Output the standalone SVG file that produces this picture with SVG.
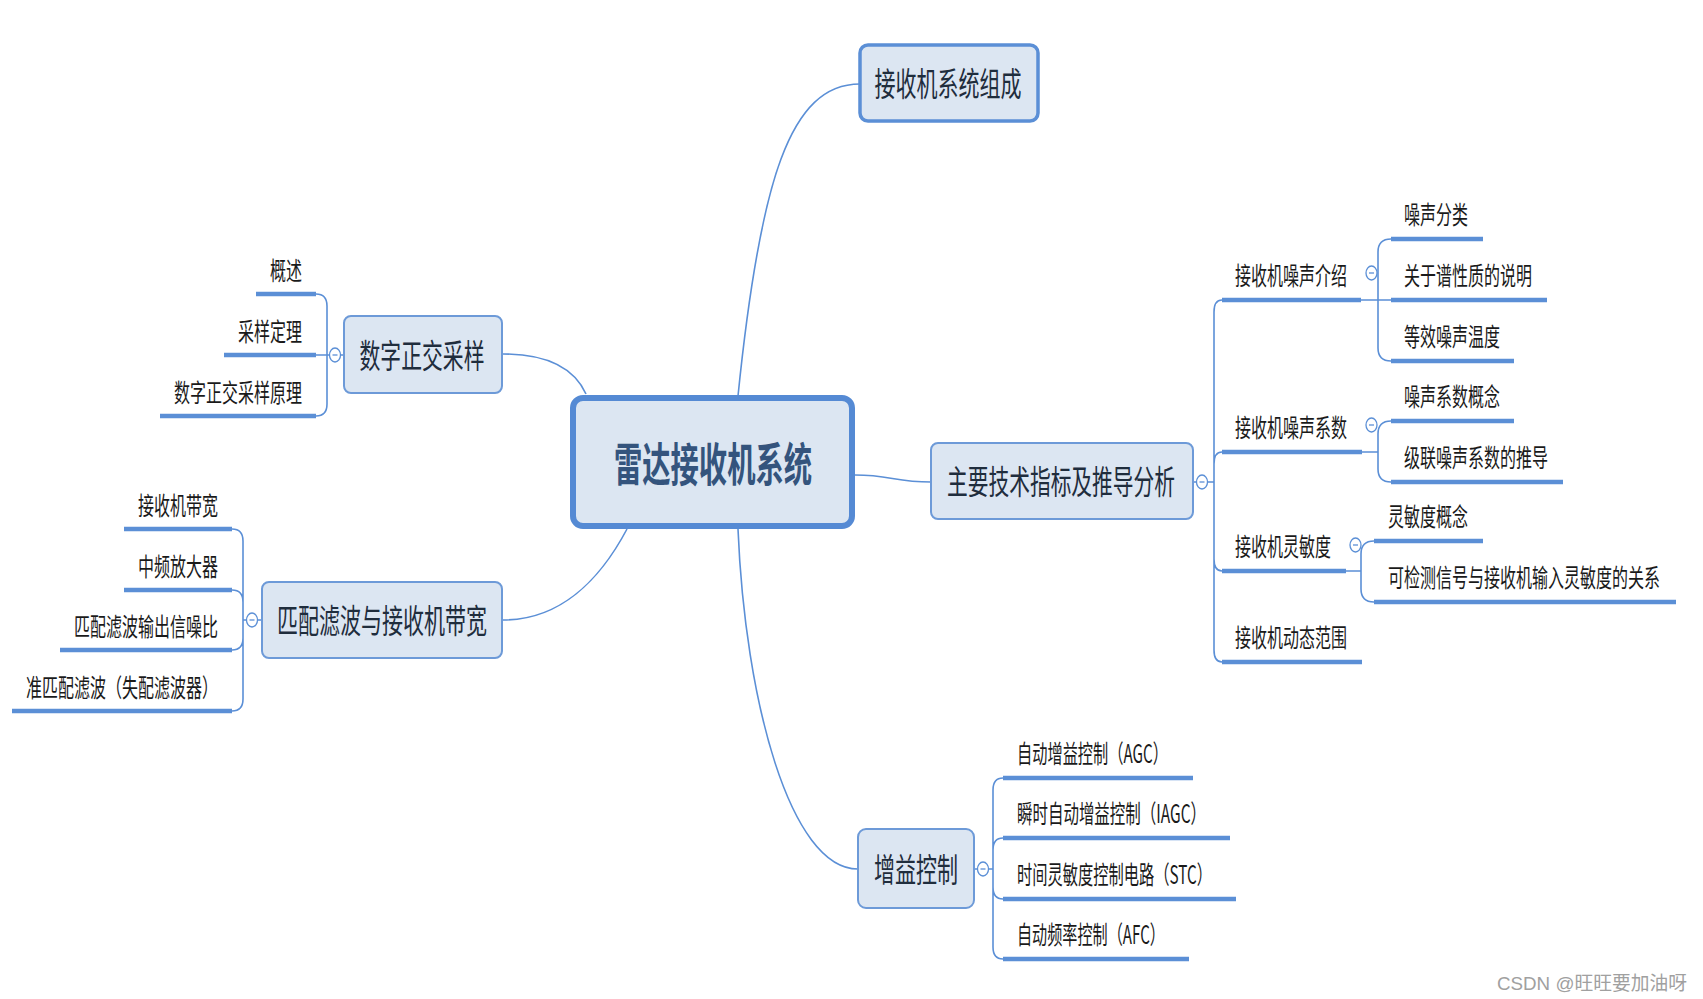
<svg xmlns="http://www.w3.org/2000/svg" width="1703" height="999" viewBox="0 0 1703 999">
<style>
.line{fill:none;stroke:#5b8fd6;stroke-width:1.6}
.bar{stroke:#5b8fd6;stroke-width:4.5}
.box{fill:#dce6f2;stroke:#6d9ad8;stroke-width:2}
.t{font-family:"Noto Sans CJK SC","Noto Sans CJK JP",sans-serif}
.leaf{font-size:25px;fill:#1a1a1a}
.main{font-size:33px;fill:#1f2d3d;text-anchor:middle}
.root{font-size:46px;font-weight:bold;fill:#34547d;text-anchor:middle}
.tog ellipse{fill:#fff;stroke:#5b8fd6;stroke-width:1.3}
.tog line{stroke:#5b8fd6;stroke-width:1.3}
</style>
<rect width="1703" height="999" fill="#fff"/>
<defs>
<g id="tg" class="tog"><ellipse cx="0" cy="0" rx="5.5" ry="7"/><line x1="-2.5" y1="0" x2="2.5" y2="0"/></g>
</defs>

<g id="connectors">
<!-- root to branches -->
<path class="line" d="M738 396 C760 180 790 84 860 84"/>
<path class="line" d="M586 394 C575 370 550 354 503 354"/>
<path class="line" d="M627 529 C600 580 560 620 503 620"/>
<path class="line" d="M855 475 C890 475 895 482 931 482"/>
<path class="line" d="M738 529 C745 700 790 869 858 869"/>
<!-- left upper -->
<path class="line" d="M316 294 Q327 294 327 306 L327 404 Q327 416 316 416 M316 355 L329.5 355 M340.5 355 L344 355"/>
<!-- left lower -->
<path class="line" d="M232 529 Q243 529 243 541 L243 699 Q243 711 232 711 M232 590 Q243 590 243 602 L243 638 Q243 650 232 650 M243 620 L246.5 620 M257.5 620 L262 620"/>
<!-- right main -->
<path class="line" d="M1194 482 L1196.5 482 M1207.5 482 L1214 482 M1222 300 Q1214 300 1214 312 L1214 650 Q1214 662 1222 662 M1222 452 Q1214 452 1214 464 L1214 559 Q1214 571 1222 571"/>
<!-- sub1 -->
<path class="line" d="M1391 239 Q1378 239 1378 252 L1378 348 Q1378 361 1391 361 M1361 300 L1391 300"/>
<!-- sub2 -->
<path class="line" d="M1391 421 Q1378 421 1378 434 L1378 469 Q1378 482 1391 482 M1362 452 L1378 452"/>
<!-- sub3 -->
<path class="line" d="M1374 541 Q1361 541 1361 554 L1361 589 Q1361 602 1374 602 M1346 571 L1361 571"/>
<!-- gain -->
<path class="line" d="M974 869 L977.5 869 M988.5 869 L993 869 M1003 778 Q993 778 993 790 L993 947 Q993 959 1003 959 M1003 838 Q993 838 993 850 L993 887 Q993 899 1003 899"/>
<use href="#tg" x="335" y="355"/>
<use href="#tg" x="252" y="620"/>
<use href="#tg" x="1202" y="482"/>
<use href="#tg" x="1371.5" y="273"/>
<use href="#tg" x="1371.5" y="425"/>
<use href="#tg" x="1355.5" y="545"/>
<use href="#tg" x="983" y="869"/>
</g>

<g id="root">
<rect x="573" y="398" width="279" height="128" rx="10" fill="#dce6f2" stroke="#558ad4" stroke-width="6"/>
<text class="t root" x="713" y="481" textLength="198" lengthAdjust="spacingAndGlyphs">雷达接收机系统</text>
</g>

<g id="n-composition">
<rect x="860" y="45" width="178" height="76" rx="8" fill="#dce6f2" stroke="#5b8fd6" stroke-width="3.5"/>
<text class="t main" x="948" y="96" textLength="147" lengthAdjust="spacingAndGlyphs">接收机系统组成</text>
</g>

<g id="n-tech">
<rect class="box" x="931" y="443" width="262" height="76" rx="7"/>
<text class="t main" x="1061" y="494" textLength="228" lengthAdjust="spacingAndGlyphs">主要技术指标及推导分析</text>
</g>

<g id="n-sampling">
<rect class="box" x="344" y="316" width="158" height="77" rx="7"/>
<text class="t main" x="422" y="368" textLength="125" lengthAdjust="spacingAndGlyphs">数字正交采样</text>
</g>

<g id="n-matched">
<rect class="box" x="262" y="582" width="240" height="76" rx="7"/>
<text class="t main" x="382" y="633" textLength="210" lengthAdjust="spacingAndGlyphs">匹配滤波与接收机带宽</text>
</g>

<g id="n-gain">
<rect class="box" x="858" y="829" width="116" height="79" rx="8"/>
<text class="t main" x="916" y="882" textLength="84" lengthAdjust="spacingAndGlyphs">增益控制</text>
</g>

<!-- left upper leaves -->
<g id="l-overview"><line class="bar" x1="256" y1="294" x2="316" y2="294"/><text class="t leaf" x="302" y="280" text-anchor="end" textLength="32" lengthAdjust="spacingAndGlyphs">概述</text></g>
<g id="l-theorem"><line class="bar" x1="224" y1="355" x2="316" y2="355"/><text class="t leaf" x="302" y="341" text-anchor="end" textLength="64" lengthAdjust="spacingAndGlyphs">采样定理</text></g>
<g id="l-principle"><line class="bar" x1="160" y1="416" x2="316" y2="416"/><text class="t leaf" x="302" y="402" text-anchor="end" textLength="128" lengthAdjust="spacingAndGlyphs">数字正交采样原理</text></g>

<!-- left lower leaves -->
<g id="l-bw"><line class="bar" x1="124" y1="529" x2="232" y2="529"/><text class="t leaf" x="218" y="515" text-anchor="end" textLength="80" lengthAdjust="spacingAndGlyphs">接收机带宽</text></g>
<g id="l-if"><line class="bar" x1="124" y1="590" x2="232" y2="590"/><text class="t leaf" x="218" y="576" text-anchor="end" textLength="80" lengthAdjust="spacingAndGlyphs">中频放大器</text></g>
<g id="l-snr"><line class="bar" x1="60" y1="650" x2="232" y2="650"/><text class="t leaf" x="218" y="636" text-anchor="end" textLength="144" lengthAdjust="spacingAndGlyphs">匹配滤波输出信噪比</text></g>
<g id="l-quasi"><line class="bar" x1="12" y1="711" x2="232" y2="711"/><text class="t leaf" x="218" y="697" text-anchor="end" textLength="192" lengthAdjust="spacingAndGlyphs">准匹配滤波（失配滤波器）</text></g>

<!-- right subs -->
<g id="s-noise"><line class="bar" x1="1222" y1="300" x2="1361" y2="300"/><text class="t leaf" x="1235" y="285" textLength="112" lengthAdjust="spacingAndGlyphs">接收机噪声介绍</text></g>
<g id="s-nf"><line class="bar" x1="1222" y1="452" x2="1362" y2="452"/><text class="t leaf" x="1235" y="437" textLength="112" lengthAdjust="spacingAndGlyphs">接收机噪声系数</text></g>
<g id="s-sens"><line class="bar" x1="1222" y1="571" x2="1346" y2="571"/><text class="t leaf" x="1235" y="556" textLength="96" lengthAdjust="spacingAndGlyphs">接收机灵敏度</text></g>
<g id="s-dr"><line class="bar" x1="1222" y1="662" x2="1362" y2="662"/><text class="t leaf" x="1235" y="647" textLength="112" lengthAdjust="spacingAndGlyphs">接收机动态范围</text></g>

<g id="r-class"><line class="bar" x1="1391" y1="239" x2="1483" y2="239"/><text class="t leaf" x="1404" y="224" textLength="64" lengthAdjust="spacingAndGlyphs">噪声分类</text></g>
<g id="r-spec"><line class="bar" x1="1391" y1="300" x2="1547" y2="300"/><text class="t leaf" x="1404" y="285" textLength="128" lengthAdjust="spacingAndGlyphs">关于谱性质的说明</text></g>
<g id="r-temp"><line class="bar" x1="1391" y1="361" x2="1514" y2="361"/><text class="t leaf" x="1404" y="346" textLength="96" lengthAdjust="spacingAndGlyphs">等效噪声温度</text></g>
<g id="r-nfc"><line class="bar" x1="1391" y1="421" x2="1514" y2="421"/><text class="t leaf" x="1404" y="406" textLength="96" lengthAdjust="spacingAndGlyphs">噪声系数概念</text></g>
<g id="r-casc"><line class="bar" x1="1391" y1="482" x2="1563" y2="482"/><text class="t leaf" x="1404" y="467" textLength="144" lengthAdjust="spacingAndGlyphs">级联噪声系数的推导</text></g>
<g id="r-sensc"><line class="bar" x1="1374" y1="541" x2="1483" y2="541"/><text class="t leaf" x="1388" y="526" textLength="80" lengthAdjust="spacingAndGlyphs">灵敏度概念</text></g>
<g id="r-rel"><line class="bar" x1="1374" y1="602" x2="1676" y2="602"/><text class="t leaf" x="1388" y="587" textLength="272" lengthAdjust="spacingAndGlyphs">可检测信号与接收机输入灵敏度的关系</text></g>

<!-- gain leaves -->
<g id="g-agc"><line class="bar" x1="1003" y1="778" x2="1193" y2="778"/><text class="t leaf" x="1017" y="763" textLength="151" lengthAdjust="spacingAndGlyphs">自动增益控制（AGC）</text></g>
<g id="g-iagc"><line class="bar" x1="1003" y1="838" x2="1230" y2="838"/><text class="t leaf" x="1017" y="823" textLength="189" lengthAdjust="spacingAndGlyphs">瞬时自动增益控制（IAGC）</text></g>
<g id="g-stc"><line class="bar" x1="1003" y1="899" x2="1236" y2="899"/><text class="t leaf" x="1017" y="884" textLength="195" lengthAdjust="spacingAndGlyphs">时间灵敏度控制电路（STC）</text></g>
<g id="g-afc"><line class="bar" x1="1003" y1="959" x2="1189" y2="959"/><text class="t leaf" x="1017" y="944" textLength="148" lengthAdjust="spacingAndGlyphs">自动频率控制（AFC）</text></g>

<text x="1497" y="990" font-family="'Liberation Sans','Noto Sans CJK SC',sans-serif" font-size="19" fill="#a0a0a0" textLength="190" lengthAdjust="spacingAndGlyphs">CSDN @旺旺要加油呀</text>
</svg>
